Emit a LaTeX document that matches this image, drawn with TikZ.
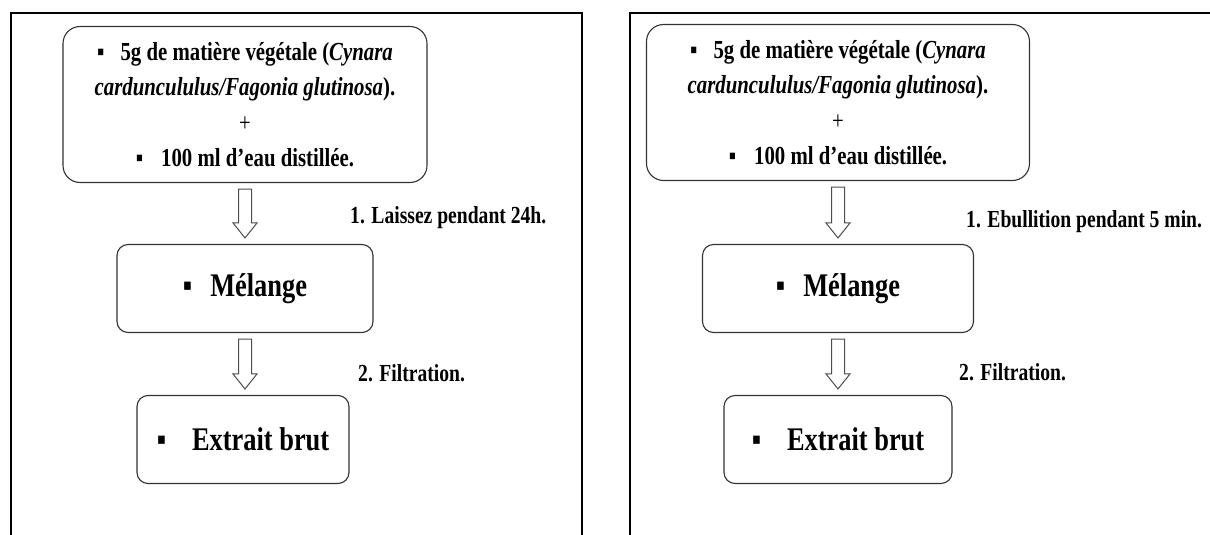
\documentclass[tikz,border=0pt]{standalone}
\usepackage{fontspec}
\setmainfont[FakeStretch=0.8]{Liberation Serif}
\usetikzlibrary{calc}
\newcommand{\puce}{▪}
\tikzset{
  etape/.style = {draw=black!80, line width=1.1pt, rounded corners=11pt,
    align=center, inner sep=0pt, text centered},% étape du protocole
  etape_mat/.style = {etape, rounded corners=17pt, minimum height=156pt,
    font=\fontsize{26}{35.5}\selectfont\bfseries},% matière + eau
  etape_res/.style = {etape, minimum height=88pt,
    font=\fontsize{33}{38}\selectfont\bfseries},% mélange, extrait
  etiquette/.style = {anchor=west, inner sep=0pt,
    font=\fontsize{24.5}{28}\selectfont\bfseries},% opération
  cadre/.style = {draw=black, line width=2.2pt},% cadre du protocole
  fleche_creuse/.style = {draw=black!70, line width=1pt, fill=white}% flèche creuse
}
\newcommand{\fleche}[2]{%
  \draw[fleche_creuse] let \p1 = (#1.south), \p2 = (#2.north) in
    (\x1-6.5pt,\y1-6pt) -- (\x1-6.5pt,\y2+21pt) -- (\x1-12pt,\y2+21pt)
    -- (\x1,\y2+6pt) -- (\x1+12pt,\y2+21pt) -- (\x1+6.5pt,\y2+21pt)
    -- (\x1+6.5pt,\y1-6pt) -- cycle;}

\begin{document}
\begin{tikzpicture}[x=1pt, y=-1pt]
  \useasboundingbox (0,0) rectangle (1210,535);
  % cadres
  \draw[cadre] (11,535) -- (11,13) -- (582,13) -- (582,535);
  \draw[cadre] (630,535) -- (630,13) -- (1212,13);

  % macération
  \node [etape_mat, minimum width=364pt] (mac_mat) at (245,104.5)
    {\puce\hspace{16pt}5g de matière végétale (\textit{Cynara}\\
     \textit{carduncululus/Fagonia glutinosa}).\\
     {\mdseries +}\\
     \puce\hspace{18pt}100 ml d’eau distillée.};
  \node [etape_res, minimum width=256pt] (mac_mel) at (245,288.5)
    {\puce\hspace{18pt}Mélange};
  \node [etape_res, minimum width=212pt] (mac_ext) at (243,439.5)
    {\puce\hspace{26pt}Extrait brut};
  \fleche{mac_mat}{mac_mel}
  \fleche{mac_mel}{mac_ext}
  \node [etiquette] (mac_op1) at (350,218) {1. Laissez pendant 24h.};
  \node [etiquette] (mac_op2) at (358,373) {2. Filtration.};

  % décoction
  \node [etape_mat, minimum width=383pt] (dec_mat) at (838,102.5)
    {\puce\hspace{16pt}5g de matière végétale (\textit{Cynara}\\
     \textit{carduncululus/Fagonia glutinosa}).\\
     {\mdseries +}\\
     \puce\hspace{18pt}100 ml d’eau distillée.};
  \node [etape_res, minimum width=271pt] (dec_mel) at (838,288.5)
    {\puce\hspace{18pt}Mélange};
  \node [etape_res, minimum width=228pt] (dec_ext) at (838,439.5)
    {\puce\hspace{26pt}Extrait brut};
  \fleche{dec_mat}{dec_mel}
  \fleche{dec_mel}{dec_ext}
  \node [etiquette] (dec_op1) at (966,222) {1. Ebullition pendant 5 min.};
  \node [etiquette] (dec_op2) at (959,372) {2. Filtration.};
\end{tikzpicture}
\end{document}
